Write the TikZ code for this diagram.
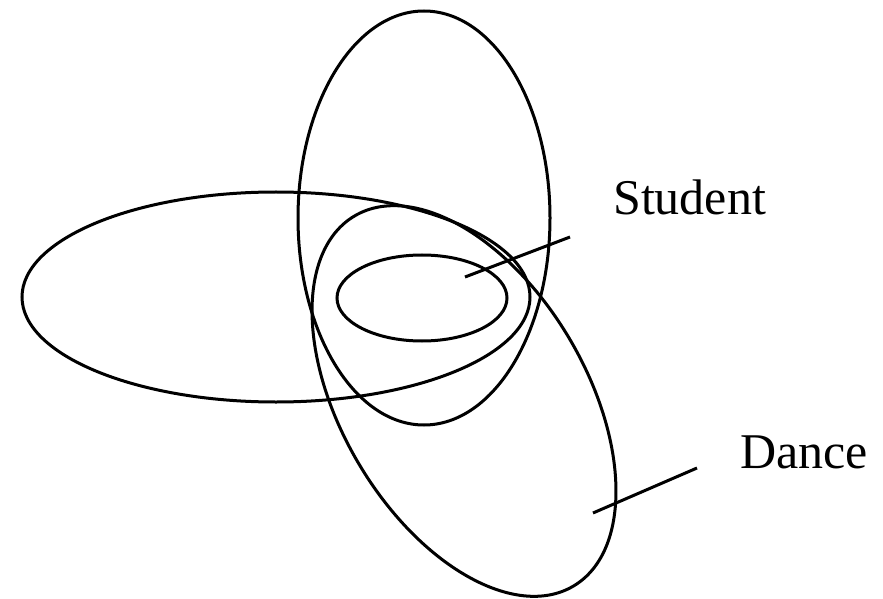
\documentclass[tikz,border=0pt]{standalone}
\usepackage{fontspec}
\setmainfont{Liberation Serif}
\begin{document}
\begin{tikzpicture}[x=1pt,y=1pt,
  curve/.style={draw=black,line width=3pt},
  pointer/.style={draw=black,line width=3pt},
  lbl/.style={anchor=base west,inner sep=0pt,font=\fontsize{50}{51}\selectfont}]
\useasboundingbox (0,0) rectangle (883,598);
% vertical ellipse
\draw[curve] (424,380) ellipse [x radius=126, y radius=207];
% horizontal ellipse
\draw[curve] (276,301) ellipse [x radius=254, y radius=105];
% tilted ellipse (Dance)
\draw[curve, rotate around={-59.4:(464,197)}] (464,197) ellipse [x radius=215, y radius=122.5];
% small ellipse (Student)
\draw[curve] (422,300) ellipse [x radius=85, y radius=43];
% labels
\node[lbl] (student) at (613,383) {Student};
\node[lbl] (dance) at (740,130) {Dance};
% pointers
\coordinate (sIn) at (465,321);
\coordinate (sOut) at (570,361);
\coordinate (dIn) at (593,85);
\coordinate (dOut) at (697,130);
\draw[pointer] (sIn) -- (sOut);
\draw[pointer] (dIn) -- (dOut);
\end{tikzpicture}
\end{document}
